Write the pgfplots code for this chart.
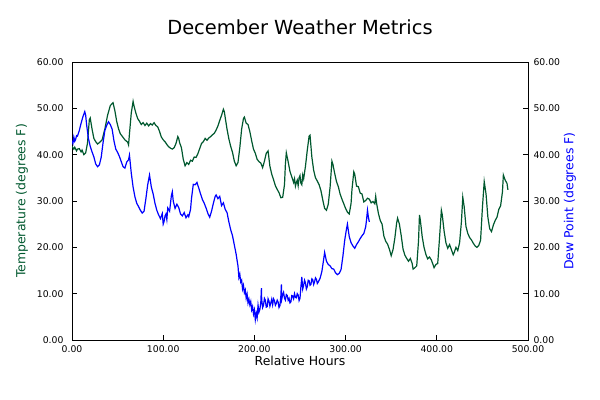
\documentclass[border=0pt]{standalone}
\usepackage{fontspec}
\setmainfont{DejaVu Sans}
\usepackage{pgfplots}
\pgfplotsset{compat=1.18}
\definecolor{tempgreen}{RGB}{0,88,46}
\definecolor{dewblue}{RGB}{0,0,255}
\pgfplotsset{
  common/.style={
    at={(72bp,60bp)}, anchor=south west, scale only axis,
    width=456bp, height=278bp,
    xmin=0, xmax=500, ymin=0, ymax=60,
    xtick={0,100,...,500}, ytick={0,10,...,60},
    tick align=inside, major tick length=5bp,
    scaled ticks=false,
    /pgf/number format/assume math mode=true,
    /pgf/number format/fixed,
    /pgf/number format/fixed zerofill,
    /pgf/number format/precision=2,
    tick label style={font=\fontsize{9.3}{11}\selectfont, text=black},
    axis line style={black, line width=0.8bp},
    tick style={black, line width=0.8bp},
  }
}
\begin{document}
\begin{tikzpicture}
\path[use as bounding box] (0,0) rectangle (600bp,400bp);
\begin{axis}[common,
  xtick pos=lower, ytick pos=left,
  yticklabel style={xshift=-5bp},
  xticklabel style={yshift=-2bp},
  title={December Weather Metrics},
  title style={at={([yshift=29bp]axis description cs:0.5,1)}, anchor=center, font=\fontsize{19.5}{23}\selectfont},
  xlabel={Relative Hours},
  xlabel style={at={([yshift=-21bp]axis description cs:0.5,0)}, anchor=center, font=\fontsize{12.5}{15}\selectfont},
  ylabel={Temperature (degrees F)},
  ylabel style={at={([xshift=-50bp]axis description cs:0,0.5)}, anchor=center, rotate=0, font=\fontsize{12.5}{15}\selectfont, text=tempgreen},
]
\addplot[tempgreen, line width=1.2bp] coordinates {
(0,41.8) (2,41.2) (3,41.6) (5,40.8) (6,41.2) (8,41.3) (10,40.6) (11,41.0) (13,40.0) (15,40.4) (17,42.5) (19,47.5) (20,47.9)
(22,45.5) (24,43.5) (26,42.8) (28,42.3) (30,42.6) (33,43.2) (36,45.5) (39,48.5) (42,50.6) (45,51.2)
(47,49.5) (49,47.2) (51,45.6) (53,44.5) (55,44.0) (58,43.2) (61,42.7) (62,42.1) (63,44.5) (65,49.0)
(67,51.5) (68,50.5) (70,49.0) (72,47.8) (74,47.2) (76,46.5) (78,46.9) (80,46.3) (82,46.8) (84,46.2)
(86,46.7) (88,46.4) (90,46.9) (92,46.3) (94,46.0) (96,45.0) (98,43.8) (100,43.2) (102,42.8) (104,42.2)
(106,41.7) (108,41.4) (110,41.2) (112,41.5) (114,42.4) (116,43.9) (117,43.5) (118,42.6) (120,41.5) (122,39.0)
(124,37.6) (126,38.3) (128,37.9) (130,38.8) (132,38.6) (134,39.5) (136,39.4) (138,40.2) (140,41.3) (142,42.4)
(144,42.8) (146,43.5) (148,43.1) (150,43.6) (152,43.9) (154,44.3) (156,44.6) (158,45.3) (160,46.2) (162,47.4)
(164,48.5) (166,49.8) (167,49.3) (168,48.0) (170,45.5) (172,43.4) (174,41.8) (176,40.5) (178,38.6) (180,37.6)
(182,38.3) (184,41.5) (186,45.5) (188,47.8) (189,48.1) (191,46.8) (193,46.5) (195,45.0) (197,43.0) (199,41.2)
(201,40.3) (203,39.0) (205,38.5) (207,38.2) (209,37.2) (211,38.6) (213,40.3) (215,40.8) (217,37.5) (219,35.8)
(221,34.6) (223,33.3) (225,32.5) (227,31.8) (229,30.7) (231,30.8) (233,33.5) (234,38.0) (235,40.4) (237,38.5)
(239,36.4) (241,35.2) (243,34.0) (244,34.8) (245,33.2) (246,34.0) (247,34.5) (248,33.3) (249,35.0) (250,35.5) (251,33.8) (252,33.5) (253,35.6) (254,34.8) (256,37.5)
(258,41.0) (260,44.0) (261,44.2) (263,39.5) (265,36.6) (267,35.0) (269,34.3) (271,33.5) (273,32.2) (275,30.2)
(277,28.4) (279,28.0) (281,29.3) (283,33.0) (285,38.6) (286,38.0) (288,36.0) (290,34.2) (292,33.1) (294,31.5)
(296,30.4) (298,29.4) (300,28.4) (302,27.6) (304,27.2) (306,29.5) (307,32.5) (309,36.3) (310,35.8) (312,33.2)
(314,33.1) (316,31.7) (318,31.5) (320,29.8) (322,30.1) (324,30.6) (326,30.4) (328,29.6) (330,29.9) (332,29.4)
(333,31.0) (334,29.5) (336,27.3) (338,25.8) (340,25.0) (342,22.4) (344,21.3) (346,20.7) (348,19.6) (350,18.2)
(352,19.5) (354,22.0) (356,25.3) (357,26.3) (359,25.0) (361,22.5) (363,19.6) (365,18.3) (367,17.6) (369,17.0)
(371,17.6) (373,16.5) (374,15.3) (376,15.6) (378,16.0) (380,21.5) (381,27.0) (382,25.8) (384,22.3) (386,20.0)
(388,18.5) (390,17.5) (392,17.9) (394,17.3) (396,16.2) (397,15.6) (399,16.3) (401,16.5) (403,22.0) (405,28.0)
(406,27.0) (408,23.5) (410,21.0) (412,19.8) (414,20.6) (416,19.5) (418,18.4) (419,18.8) (421,20.0) (423,19.3)
(425,21.0) (427,25.5) (428.5,30.8) (430,28.8) (432,24.5) (434,23.0) (436,22.1) (438,21.6) (440,20.9) (442,20.3)
(444,20.0) (446,20.4) (448,21.5) (450,28.5) (452,34.2) (454,31.5) (456,26.5) (458,24.0) (460,23.4) (462,24.8)
(464,25.8) (466,26.5) (468,28.2) (470,29.0) (472,32.0) (473,35.6) (475,34.5) (477,33.8) (478,32.4)
};
\end{axis}
\begin{axis}[common,
  axis x line=none, axis y line*=right, ytick pos=right,
  yticklabel style={xshift=2bp},
  ylabel={Dew Point (degrees F)},
  ylabel style={at={([xshift=42bp]axis description cs:1,0.5)}, anchor=center, rotate=0, font=\fontsize{12.5}{15}\selectfont, text=dewblue},
]
\addplot[dewblue, line width=1.2bp] coordinates {
(0,43.0) (1,42.4) (2,43.8) (3,42.9) (4,43.3) (5,44.1) (6,44.0) (8,45.2) (10,46.8) (12,48.2) (14,49.3) (15,48.5) (16,46.5)
(18,43.5) (20,41.8) (22,40.6) (24,39.5) (26,38.0) (28,37.4) (30,37.8) (32,39.4) (34,42.5) (36,45.2)
(38,46.3) (40,47.1) (42,46.5) (44,45.5) (46,43.0) (48,41.2) (50,40.5) (52,39.6) (54,38.5) (56,37.4)
(58,37.1) (60,38.4) (62,38.9) (63,39.9) (65,36.0) (67,33.0) (69,30.9) (71,29.5) (73,28.8) (75,28.0)
(77,27.4) (79,27.8) (81,30.5) (83,33.5) (85,35.6) (87,33.0) (89,31.5) (91,29.5) (93,28.0) (95,27.0)
(97,26.2) (99,27.3) (100,25.0) (101,25.6) (102,26.8) (103,27.2) (104,26.0) (105,28.5) (107,27.8) (109,31.2) (110,32.0) (111,30.0) (113,28.4)
(115,29.3) (117,28.6) (119,27.2) (121,26.8) (123,27.5) (125,26.4) (127,27.0) (128,26.6) (130,28.2) (131,30.5)
(133,33.6) (135,33.5) (137,34.0) (139,32.8) (141,31.5) (143,30.3) (145,29.5) (147,28.5) (149,27.3) (151,26.5)
(153,27.8) (155,29.5) (157,31.0) (158,31.3) (160,30.5) (162,31.0) (164,29.0) (166,29.6) (168,28.2) (170,27.5)
(172,25.5) (174,23.8) (176,22.5) (178,20.5) (180,18.5) (181,17.2) (182,16.0) (183,13.5) (184,14.2) (185,12.5)
(186,12.9) (187,11.0) (188,11.8) (189,10.2) (190,10.8) (191,9.0) (192,9.9) (193,8.0) (194,8.8) (195,7.6)
(196,8.3) (197,6.5) (198,7.2) (199,5.6) (200,6.5) (201,4.4) (202,5.8) (203,4.8) (204,7.5) (205,6.0)
(206,6.6) (207,8.0) (207.7,11.2) (208,8.8) (209,7.0) (210,7.5) (211,9.0) (212,8.6) (213,7.1) (214,7.2)
(215,8.9) (216,8.4) (217,7.3) (218,8.0) (219,8.8) (220,7.6) (221,8.9) (222,8.5) (223,7.5) (224,7.9)
(225,8.6) (226,8.2) (227,7.0) (228,7.4) (229,9.5) (229.6,12.0) (230,8.8) (231,9.8) (232,10.3) (233,9.0)
(234,8.6) (235,9.8) (236,9.6) (237,8.6) (238,9.0) (239,8.0) (240,8.2) (241,9.6) (242,9.5) (243,8.9)
(244,10.0) (245,9.2) (246,9.1) (247,10.0) (248,9.7) (249,8.5) (250,9.0) (251,11.5) (252,13.6) (253,11.0)
(254,11.8) (255,12.9) (256,12.3) (257,11.0) (258,11.5) (259,12.9) (260,12.8) (261,11.8) (262,12.0) (263,13.2)
(264,13.0) (265,12.0) (266,12.6) (267,13.4) (268,13.1) (269,12.2) (270,12.5) (272,13.3) (274,14.8) (276,17.5) (277,18.9) (279,17.0) (281,16.3)
(283,16.0) (285,15.4) (287,15.3) (289,14.5) (291,14.1) (293,14.4) (295,15.2) (297,18.0) (299,21.5) (301,24.0)
(302,25.0) (304,22.3) (306,21.0) (308,20.3) (310,19.8) (312,20.6) (314,21.2) (316,21.9) (318,22.5) (320,23.0)
(322,24.4) (323,26.0) (324,28.0) (325,26.5) (326,25.5)
};
\end{axis}
\end{tikzpicture}
\end{document}
